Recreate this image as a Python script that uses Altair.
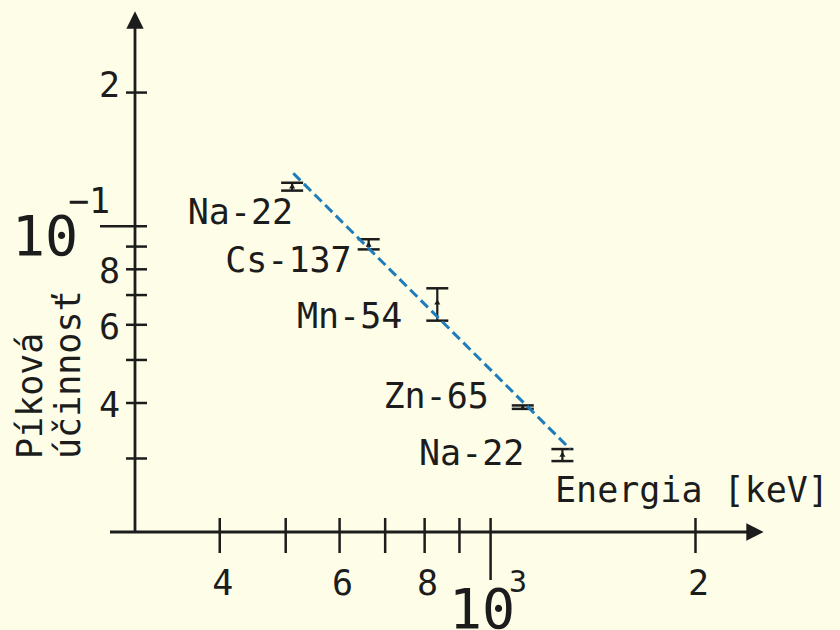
import altair as alt
import pandas as pd

# Measured peak efficiency of the detector versus gamma energy
isotopes = ["Na-22", "Cs-137", "Mn-54", "Zn-65", "Na-22"]
energy_kev = [511, 662, 835, 1115, 1275]
efficiency = [0.1232, 0.0912, 0.0676, 0.0391, 0.0307]
eff_low = [0.1203, 0.0887, 0.0613, 0.0388, 0.0296]
eff_high = [0.1253, 0.0935, 0.0725, 0.0395, 0.0315]

# Power-law fit drawn as a straight line on log-log axes
fit_energy = [513, 1309]
fit_eff = [0.1316, 0.0315]

# Axis ticks and their labels
y_ticks = [0.2, 0.09, 0.08, 0.07, 0.06, 0.05, 0.04, 0.03]
y_tick_text = ["2", "8", "6", "4"]
y_tick_at = [0.2, 0.08, 0.06, 0.04]
x_ticks = [400, 500, 600, 700, 800, 900, 2000]
x_tick_text = ["4", "6", "8", "2"]
x_tick_at = [400, 600, 800, 2000]

INK = "#1c1c1c"
FONT = "DejaVu Sans Mono"
FS = 35

xs = alt.Scale(type="log", domain=[190.2, 3261], nice=False)
ys = alt.Scale(type="log", domain=[0.012329, 0.3232], nice=False)

pts = pd.DataFrame({
    "idx": list(range(len(isotopes))),
    "isotope": isotopes,
    "energy": energy_kev,
    "eff": efficiency,
    "lo": eff_low,
    "hi": eff_high,
})
fit = pd.DataFrame({"energy": fit_energy, "eff": fit_eff})
one = pd.DataFrame({"k": [0]})

X = lambda f: alt.X(f, type="quantitative", scale=xs, axis=None)
Y = lambda f: alt.Y(f, type="quantitative", scale=ys, axis=None)

layers = []

# axis lines with arrow heads
layers.append(alt.Chart(one).mark_rule(color=INK, strokeWidth=2.8).encode(
    x=alt.value(135), y=alt.value(533), y2=alt.value(26)))
layers.append(alt.Chart(one).mark_rule(color=INK, strokeWidth=2.8).encode(
    x=alt.value(110), x2=alt.value(750), y=alt.value(532)))
layers.append(alt.Chart(one).mark_point(
    shape="M-1,1L0,-1L1,1Z", filled=True, size=300, color=INK, opacity=1, strokeWidth=0
).encode(x=alt.value(135), y=alt.value(20)))
layers.append(alt.Chart(one).mark_point(
    shape="M-1,-1L1,0L-1,1Z", filled=True, size=300, color=INK, opacity=1, strokeWidth=0
).encode(x=alt.value(755), y=alt.value(532)))

# y ticks
layers.append(alt.Chart(pd.DataFrame({"v": y_ticks})).mark_rule(color=INK, strokeWidth=2.5).encode(
    y=Y("v"), x=alt.value(126), x2=alt.value(147)))
layers.append(alt.Chart(pd.DataFrame({"v": [0.1]})).mark_rule(color=INK, strokeWidth=2.5).encode(
    y=Y("v"), x=alt.value(100), x2=alt.value(147)))
# x ticks
layers.append(alt.Chart(pd.DataFrame({"v": x_ticks})).mark_rule(color=INK, strokeWidth=2.5).encode(
    x=X("v"), y=alt.value(518), y2=alt.value(553)))
layers.append(alt.Chart(pd.DataFrame({"v": [1000]})).mark_rule(color=INK, strokeWidth=2.5).encode(
    x=X("v"), y=alt.value(518), y2=alt.value(580)))

# y tick labels
y_label_dy = [4, 14, 14, 14]
for txt, v, dy in zip(y_tick_text, y_tick_at, y_label_dy):
    layers.append(alt.Chart(pd.DataFrame({"v": [v], "t": [txt]})).mark_text(
        font=FONT, fontSize=FS, color=INK, align="right", baseline="alphabetic", dy=dy
    ).encode(y=Y("v"), x=alt.value(120), text="t:N"))

# x tick labels
for txt, v in zip(x_tick_text, x_tick_at):
    layers.append(alt.Chart(pd.DataFrame({"v": [v], "t": [txt]})).mark_text(
        font=FONT, fontSize=FS, color=INK, align="center", baseline="alphabetic", dx=3
    ).encode(x=X("v"), y=alt.value(595), text="t:N"))

# decade labels 10^-1 and 10^3
layers.append(alt.Chart(pd.DataFrame({"t": ["10"]})).mark_text(
    font=FONT, fontSize=55, color=INK, align="center", baseline="alphabetic"
).encode(x=alt.value(45), y=alt.value(255), text="t:N"))
layers.append(alt.Chart(pd.DataFrame({"t": ["\u22121"]})).mark_text(
    font=FONT, fontSize=FS, color=INK, align="center", baseline="alphabetic"
).encode(x=alt.value(89), y=alt.value(213), text="t:N"))
layers.append(alt.Chart(pd.DataFrame({"t": ["10"]})).mark_text(
    font=FONT, fontSize=55, color=INK, align="center", baseline="alphabetic"
).encode(x=alt.value(482), y=alt.value(628), text="t:N"))
layers.append(alt.Chart(pd.DataFrame({"t": ["3"]})).mark_text(
    font=FONT, fontSize=30, color=INK, align="center", baseline="alphabetic"
).encode(x=alt.value(518), y=alt.value(592), text="t:N"))

# axis titles
layers.append(alt.Chart(pd.DataFrame({"t": ["Energia [keV]"]})).mark_text(
    font=FONT, fontSize=FS, color=INK, align="left", baseline="alphabetic"
).encode(x=alt.value(555), y=alt.value(502), text="t:N"))
layers.append(alt.Chart(pd.DataFrame({"t": ["Píková\núčinnosť"]})).mark_text(
    font=FONT, fontSize=FS, color=INK, align="left", baseline="alphabetic",
    angle=270, lineBreak="\n", lineHeight=38
).encode(x=alt.value(42), y=alt.value(459), text="t:N"))

# error bars
base = alt.Chart(pts)
layers.append(base.mark_rule(color=INK, strokeWidth=2.2).encode(x=X("energy"), y=Y("lo"), y2="hi:Q"))
for f in ["lo", "hi"]:
    layers.append(base.mark_point(shape="M-1,0L1,0", size=484, filled=False, color=INK,
                                  strokeWidth=2.5, opacity=1).encode(x=X("energy"), y=Y(f)))
layers.append(base.mark_point(shape="triangle-up", size=36, filled=True, color=INK, opacity=1).encode(
    x=X("energy"), y=Y("eff")))

# isotope labels
label_dx = [1, -17, -35, -34, -38]
label_dy = [38, 28, 26, 1, 11]
for i in range(len(isotopes)):
    layers.append(base.transform_filter(alt.datum.idx == i).mark_text(
        font=FONT, fontSize=FS, color=INK, align="right", baseline="alphabetic",
        dx=label_dx[i], dy=label_dy[i]
    ).encode(x=X("energy"), y=Y("eff"), text="isotope:N"))

# fitted line
layers.append(alt.Chart(fit).mark_line(color="#1f7cbb", strokeWidth=3, strokeDash=[10, 5]).encode(
    x=X("energy"), y=Y("eff")))

chart = alt.layer(*layers).properties(
    width=840, height=630, padding=0,
    autosize=alt.AutoSizeParams(type="none"),
    background="#fefee8",
).configure_view(stroke=None)

chart.save("out.html", embed_options={"renderer": "svg", "actions": False})
